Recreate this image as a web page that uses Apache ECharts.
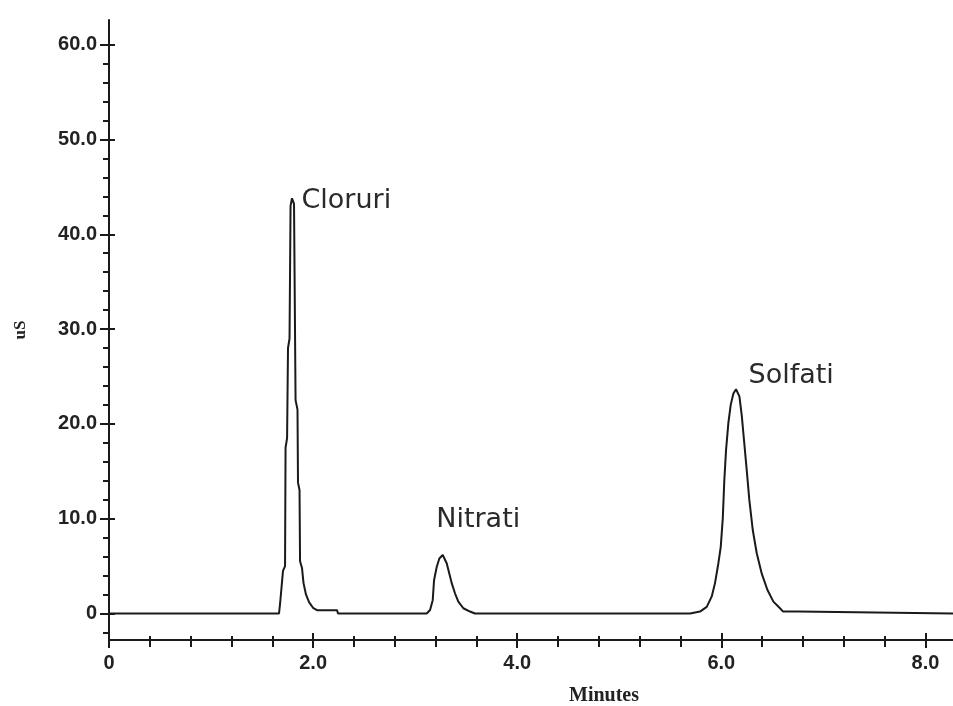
<!DOCTYPE html>
<html>
<head>
<meta charset="utf-8">
<script src="https://cdn.jsdelivr.net/npm/echarts@6/dist/echarts.min.js"></script>
<style>
  html, body { margin: 0; padding: 0; background: #ffffff; }
  #chart { width: 953px; height: 706px; }
</style>
</head>
<body>
<div id="chart"></div>
<script>
// Conductivity detector trace: retention time (min) and signal (uS)
const traceTimes = [
  0, 1.666, 1.676, 1.695, 1.705, 1.725, 1.730, 1.745, 1.754, 1.769, 1.779, 1.793,
  1.813, 1.828, 1.847, 1.852, 1.867, 1.872, 1.891, 1.906, 1.930, 1.960, 1.999,
  2.038, 2.234, 2.244,
  3.113, 3.146, 3.172, 3.185, 3.211, 3.237, 3.270, 3.309, 3.335, 3.358, 3.391,
  3.423, 3.472, 3.537, 3.586,
  5.693, 5.791, 5.857, 5.906, 5.938, 5.971, 5.994, 6.014, 6.029, 6.046, 6.069,
  6.092, 6.118, 6.144, 6.177, 6.200, 6.222, 6.249, 6.274, 6.308, 6.347, 6.396,
  6.451, 6.510, 6.575, 6.605, 6.752, 6.761, 8.27
];
const traceSignal = [
  0, 0, 1.0, 1.2, 4.5, 5.0, 17.5, 18.5, 28.0, 29.0, 43.0, 43.8,
  43.2, 22.5, 21.5, 13.8, 13.0, 5.5, 4.8, 3.2, 2.0, 1.2, 0.6,
  0.35, 0.35, 0,
  0, 0.37, 1.4, 3.5, 4.9, 5.8, 6.17, 5.3, 4.2, 3.2, 2.1,
  1.25, 0.55, 0.2, 0,
  0, 0.2, 0.7, 1.8, 3.2, 5.3, 7.0, 10.0, 14.0, 17.2, 20.1,
  22.0, 23.2, 23.65, 22.9, 20.9, 18.3, 15.1, 12.0, 8.8, 6.35, 4.2,
  2.5, 1.25, 0.55, 0.2, 0.2, 0, 0
];

// Identified anions, labelled at their peak apex
const peakNames = ['Cloruri', 'Nitrati', 'Solfati'];
const peakTimes = [1.793, 3.270, 6.144];

// Axis ticks
const timeMajorTicks = [0, 2, 4, 6, 8];
const timeMinorTicks = [0.4, 0.8, 1.2, 1.6, 2.4, 2.8, 3.2, 3.6, 4.4, 4.8, 5.2, 5.6, 6.4, 6.8, 7.2, 7.6];
const signalMajorTicks = [0, 10, 20, 30, 40, 50, 60];
const signalMinorTicks = [-2, 2, 4, 6, 8, 12, 14, 16, 18, 22, 24, 26, 28, 32, 34, 36, 38,
  42, 44, 46, 48, 52, 54, 56, 58];

const timeRange = [0, 8.27];
const signalRange = [-2.8, 62.6];

const traceData = traceTimes.map((t, i) => [t, traceSignal[i]]);
const signalAt = t => traceSignal[traceTimes.indexOf(t)];

const ink = '#1a1a1a';
const tickFmt = v => (v === 0 ? '0' : v.toFixed(1));
const tickFont = { fontFamily: 'Liberation Sans', fontWeight: 'bold', fontSize: 20, color: '#222' };

function timeAxis(ticks, len, inside, main) {
  return {
    type: 'value', position: 'bottom', min: timeRange[0], max: timeRange[1],
    axisLine: { show: !!main, onZero: false, lineStyle: { color: ink, width: 2 } },
    axisTick: { show: true, customValues: ticks, length: len, inside: inside,
      lineStyle: { color: ink, width: 2 } },
    axisLabel: main ? Object.assign({ show: true, customValues: timeMajorTicks, margin: 13,
      formatter: tickFmt }, tickFont) : { show: false },
    splitLine: { show: false }
  };
}
function signalAxis(ticks, len, inside, main) {
  return {
    type: 'value', position: 'left', min: signalRange[0], max: signalRange[1],
    axisLine: { show: !!main, onZero: false, lineStyle: { color: ink, width: 2 } },
    axisTick: { show: true, customValues: ticks, length: len, inside: inside,
      lineStyle: { color: ink, width: 2 } },
    axisLabel: main ? Object.assign({ show: true, customValues: signalMajorTicks, margin: 12,
      formatter: tickFmt }, tickFont) : { show: false },
    splitLine: { show: false },
    name: main ? 'uS' : '',
    nameLocation: 'middle', nameRotate: 90, nameGap: 80,
    nameTextStyle: { fontFamily: 'Liberation Serif', fontWeight: 'bold', fontSize: 17, color: '#222' }
  };
}

const labelOffsets = [[9, 3], [-7, -35], [12, -13]];

const chart = echarts.init(document.getElementById('chart'), null, { renderer: 'canvas' });
chart.setOption({
  animation: false,
  backgroundColor: '#ffffff',
  grid: { left: 109, top: 20, right: 0, bottom: 66 },
  xAxis: [
    timeAxis(timeMajorTicks, 8, false, true),
    timeAxis(timeMajorTicks, 7, true, false),
    timeAxis(timeMinorTicks, 7, false, false),
    timeAxis(timeMinorTicks, 4, true, false)
  ],
  yAxis: [
    signalAxis(signalMajorTicks, 9, false, true),
    signalAxis(signalMajorTicks, 6, true, false),
    signalAxis(signalMinorTicks, 6, false, false)
  ],
  graphic: [{
    type: 'text', left: 569, top: 686,
    style: { text: 'Minutes', fontFamily: 'Liberation Serif', fontWeight: 'bold',
      fontSize: 20, fill: '#222' }
  }],
  series: [{
    type: 'line',
    xAxisIndex: 0, yAxisIndex: 0,
    data: traceData,
    showSymbol: false,
    lineStyle: { color: ink, width: 2 },
    markPoint: {
      symbol: 'circle', symbolSize: 1,
      itemStyle: { color: 'rgba(0,0,0,0)' },
      label: { show: true, position: 'right', distance: 0,
        fontFamily: 'DejaVu Sans', fontSize: 27, color: '#2a2a2a',
        formatter: p => p.name },
      data: peakNames.map((n, i) => ({
        name: n,
        coord: [peakTimes[i], signalAt(peakTimes[i])],
        label: { offset: labelOffsets[i] }
      }))
    }
  }]
});
</script>
</body>
</html>
